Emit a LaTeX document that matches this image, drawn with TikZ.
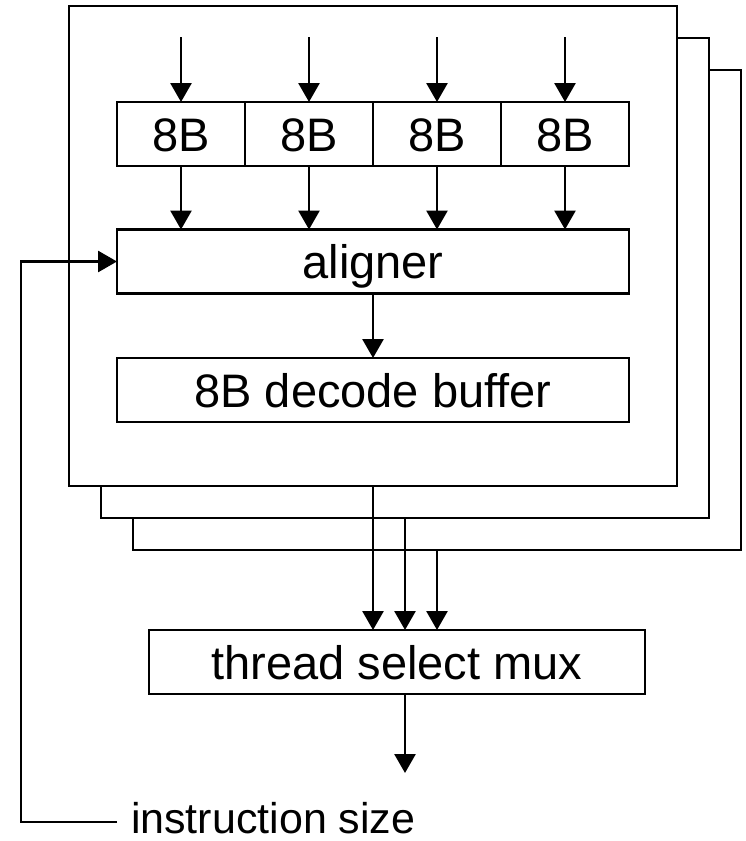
\documentclass[tikz,border=0pt]{standalone}
\usepackage{fontspec}
\setmainfont{Liberation Sans}
\usetikzlibrary{arrows.meta}
\begin{document}
\begin{tikzpicture}[x=1pt,y=-1pt,
  line width=2.8pt,
  every node/.style={inner sep=0pt,outer sep=0pt,font=\fontsize{47}{54}\selectfont},
  boxtext/.style={text height=34pt,text depth=0pt},
  frame/.style={draw,fill=white,minimum width=608pt,minimum height=480pt},
  blk/.style={draw,boxtext,minimum width=512pt,minimum height=64pt},
  cell/.style={draw,boxtext,minimum width=128pt,minimum height=64pt},
  arr/.style={-{Triangle[length=19pt,width=21pt]}}]
\useasboundingbox (0,0) rectangle (746,841);

% three stacked thread frames, back to front
\node[frame] (f3) at (437,310) {};
\node[frame] (f2) at (405,278) {};
\node[frame] (f1) at (373,246) {};

% fetch cells
\node[cell] (c1) at (181,134) {8B};
\node[cell] (c2) at (309,134) {8B};
\node[cell] (c3) at (437,134) {8B};
\node[cell] (c4) at (565,134) {8B};

\node[blk] (al) at (373,261.5) {aligner};
\node[blk] (db) at (373,390) {8B decode buffer};
\node[draw,boxtext,minimum width=496pt,minimum height=64pt] (mux) at (397,662) {thread select mux};

\node[anchor=base west,font=\fontsize{43}{50}\selectfont] (is) at (131,833) {instruction size};

% free ends
\coordinate (i1) at (181,37);
\coordinate (i2) at (309,37);
\coordinate (i3) at (437,37);
\coordinate (i4) at (565,37);
\coordinate (out) at (405,773);
\coordinate (fbA) at (117,822);
\coordinate (fbB) at (21,822);

% inputs into the cells
\foreach \k in {1,...,4}{
  \draw[arr] (i\k) -- (c\k.north);
  \draw[arr] (c\k.south) -- (c\k.south |- al.north);
}
\draw[arr] (al.south) -- (db.north);

% frame outputs into the mux
\draw[arr] (f1.south) -- (f1.south |- mux.north);
\draw[arr] (f2.south) -- (f2.south |- mux.north);
\draw[arr] (f3.south) -- (f3.south |- mux.north);
\draw[arr] (mux.south -| out) -- (out);

% instruction size feedback
\draw[arr] (fbA) -- (fbB) |- (al.west);
\end{tikzpicture}
\end{document}
